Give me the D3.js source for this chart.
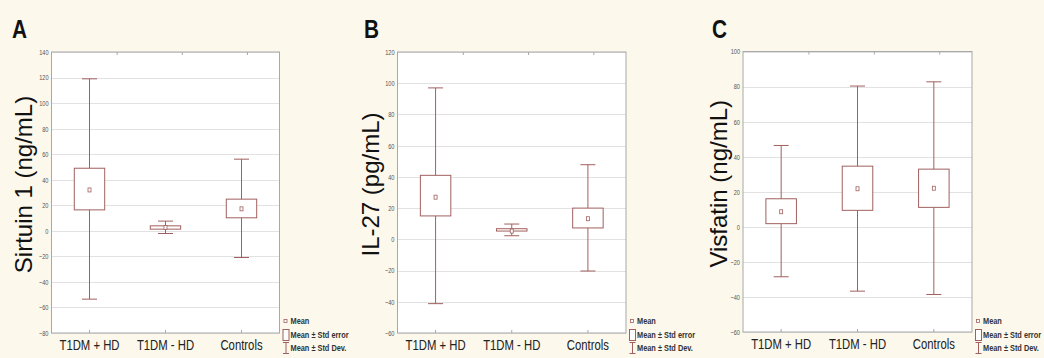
<!DOCTYPE html>
<meta charset="utf-8">
<title>Box plots</title>
<style>
  body { margin: 0; background: #fcf8ec; }
  text { font-family: "Liberation Sans", Arial, sans-serif; }
</style>
<body>
<svg id="chart" width="1044" height="358"></svg>
<script src="https://d3js.org/d3.v7.min.js"></script>
<script>

var categories = ["T1DM + HD", "T1DM - HD", "Controls"];

// Sirtuin 1
var sirtMean = [32, 2.6, 17.2],
    sirtSE = [[16.4, 49], [1.3, 3.9], [10.2, 24.8]],
    sirtSD = [[-53.5, 119], [-2.1, 7.6], [-20.9, 56.1]],
    sirtTicks = [-80, -60, -40, -20, 0, 20, 40, 60, 80, 100, 120, 140];

// IL-27
var ilMean = [27, 5.3, 13.2],
    ilSE = [[15, 41], [5.3, 6.8], [7.3, 20]],
    ilSD = [[-41.2, 97], [2.3, 9.8], [-20.3, 47.8]],
    ilTicks = [-60, -40, -20, 0, 20, 40, 60, 80, 100, 120];

// Visfatin
var visMean = [8.6, 21.7, 22],
    visSE = [[1.8, 16], [9.4, 34.6], [11.1, 32.9]],
    visSD = [[-28.5, 46.4], [-36.7, 80.3], [-38.6, 82.7]],
    visTicks = [-60, -40, -20, 0, 20, 40, 60, 80, 100];

var legendLabels = ["Mean", "Mean \u00b1 Std error", "Mean \u00b1 Std Dev."];

var panels = [
  {letter: "A", title: "Sirtuin 1 (ng/mL)", mean: sirtMean, se: sirtSE, sd: sirtSD, ticks: sirtTicks,
   left: 51.5, right: 279.5, top: 52, bottom: 333, letterX: 12, titleX: 32},
  {letter: "B", title: "IL-27 (pg/mL)", mean: ilMean, se: ilSE, sd: ilSD, ticks: ilTicks,
   left: 397.5, right: 626, top: 52, bottom: 333, letterX: 364, titleX: 379},
  {letter: "C", title: "Visfatin (ng/mL)", mean: visMean, se: visSE, sd: visSD, ticks: visTicks,
   left: 743, right: 972, top: 51.5, bottom: 332, letterX: 712, titleX: 727}
];

var boxColor = "#a0605f",
    frameColor = "#a8a8a8",
    gridColor = "#e2e2e2",
    narrow = "scale(0.78,1)";

var svg = d3.select("#chart");

panels.forEach(function(p) {
  var g = svg.append("g");

  var x = d3.scaleBand()
      .domain(categories)
      .range([p.left, p.right])
      .paddingInner(0.6)
      .paddingOuter(0.3);

  var y = d3.scaleLinear()
      .domain(d3.extent(p.ticks))
      .range([p.bottom, p.top]);

  // top ticks (independent scale, as drawn by the stats package)
  var xTop = d3.scaleLinear().domain([0, 3.5]).range([p.left, p.right]);

  g.append("rect")
      .attr("x", p.left).attr("y", p.top)
      .attr("width", p.right - p.left).attr("height", p.bottom - p.top)
      .attr("fill", "#fff");

  // grid
  g.selectAll(".grid")
    .data(p.ticks)
    .enter().append("line")
      .attr("x1", p.left).attr("x2", p.right)
      .attr("y1", function(d) { return Math.round(y(d)) + 0.5; })
      .attr("y2", function(d) { return Math.round(y(d)) + 0.5; })
      .attr("stroke", gridColor);

  // y axis labels
  var yAxis = g.append("g")
      .attr("transform", "translate(" + (p.left - 3) + ",0)")
      .call(d3.axisLeft(y).tickValues(p.ticks).tickSize(0).tickPadding(0));
  yAxis.select(".domain").remove();
  yAxis.selectAll("text")
      .attr("font-size", 7.5)
      .attr("fill", "#555")
      .attr("transform", "scale(0.75,1)");

  // x axis labels
  var xAxis = g.append("g")
      .attr("transform", "translate(0," + p.bottom + ")")
      .call(d3.axisBottom(x).tickSize(-3).tickPadding(7));
  xAxis.select(".domain").remove();
  xAxis.selectAll("line").attr("stroke", frameColor);
  xAxis.selectAll("text")
      .attr("font-size", 14.5)
      .attr("fill", "#222")
      .attr("transform", narrow)
      .attr("dy", "0.71em");

  var topAxis = g.append("g")
      .attr("transform", "translate(0," + p.top + ")")
      .call(d3.axisTop(xTop).tickValues([1, 2, 3]).tickSize(-3).tickFormat(""));
  topAxis.select(".domain").remove();
  topAxis.selectAll("line").attr("stroke", frameColor);

  // frame
  g.append("rect")
      .attr("x", p.left).attr("y", p.top)
      .attr("width", p.right - p.left).attr("height", p.bottom - p.top)
      .attr("fill", "none")
      .attr("stroke", frameColor);

  var bw = x.bandwidth(), cap = 15;

  var grp = g.selectAll(".grp")
    .data(categories)
    .enter().append("g");

  // SD whiskers
  grp.append("line")
      .attr("x1", function(d) { return x(d) + bw / 2; })
      .attr("x2", function(d) { return x(d) + bw / 2; })
      .attr("y1", function(d, i) { return y(p.sd[i][0]); })
      .attr("y2", function(d, i) { return y(p.sd[i][1]); })
      .attr("stroke", boxColor);
  [0, 1].forEach(function(k) {
    grp.append("line")
        .attr("x1", function(d) { return x(d) + bw / 2 - cap / 2; })
        .attr("x2", function(d) { return x(d) + bw / 2 + cap / 2; })
        .attr("y1", function(d, i) { return y(p.sd[i][k]); })
        .attr("y2", function(d, i) { return y(p.sd[i][k]); })
        .attr("stroke", boxColor);
  });

  // SE boxes
  grp.append("rect")
      .attr("x", function(d) { return x(d); })
      .attr("y", function(d, i) { return y(p.se[i][1]); })
      .attr("width", bw)
      .attr("height", function(d, i) { return y(p.se[i][0]) - y(p.se[i][1]); })
      .attr("fill", "#fff")
      .attr("stroke", boxColor);

  // mean markers
  grp.append("rect")
      .attr("x", function(d) { return x(d) + bw / 2 - 1.5; })
      .attr("y", function(d, i) { return y(p.mean[i]) - 2; })
      .attr("width", 3).attr("height", 4)
      .attr("fill", "#fff")
      .attr("stroke", boxColor)
      .attr("stroke-width", 0.8);

  // panel letter
  svg.append("text")
      .attr("transform", "translate(" + p.letterX + ",38) scale(0.8,1)")
      .attr("font-size", 26)
      .attr("font-weight", "bold")
      .attr("fill", "#111")
      .text(p.letter);

  // y title
  svg.append("text")
      .attr("transform", "translate(" + p.titleX + "," + ((p.top + p.bottom) / 2 - 8) + ") rotate(-90)")
      .attr("text-anchor", "middle")
      .attr("font-size", 24)
      .attr("fill", "#111")
      .text(p.title);

  // legend
  var lg = svg.append("g")
      .attr("transform", "translate(" + (p.right + 3) + ",0)");
  var ly = [321, 335, 348];
  lg.selectAll("text")
    .data(legendLabels)
    .enter().append("text")
      .attr("transform", function(d, i) { return "translate(8," + ly[i] + ") scale(0.82,1)"; })
      .attr("dy", "0.35em")
      .attr("font-size", 9)
      .attr("font-weight", "bold")
      .attr("fill", "#333")
      .text(function(d) { return d; });
  lg.append("rect")
      .attr("x", 1.5).attr("y", ly[0] - 1.5).attr("width", 3).attr("height", 3)
      .attr("fill", "#fff").attr("stroke", boxColor).attr("stroke-width", 0.8);
  lg.append("rect")
      .attr("x", 0.5).attr("y", ly[1] - 5.5).attr("width", 6).attr("height", 11)
      .attr("fill", "#fff").attr("stroke", boxColor);
  lg.append("path")
      .attr("d", "M0.5," + (ly[2] - 5.5) + "h6M3.5," + (ly[2] - 5.5) + "v11M0.5," + (ly[2] + 5.5) + "h6")
      .attr("fill", "none").attr("stroke", boxColor);
});

</script>
</body>
